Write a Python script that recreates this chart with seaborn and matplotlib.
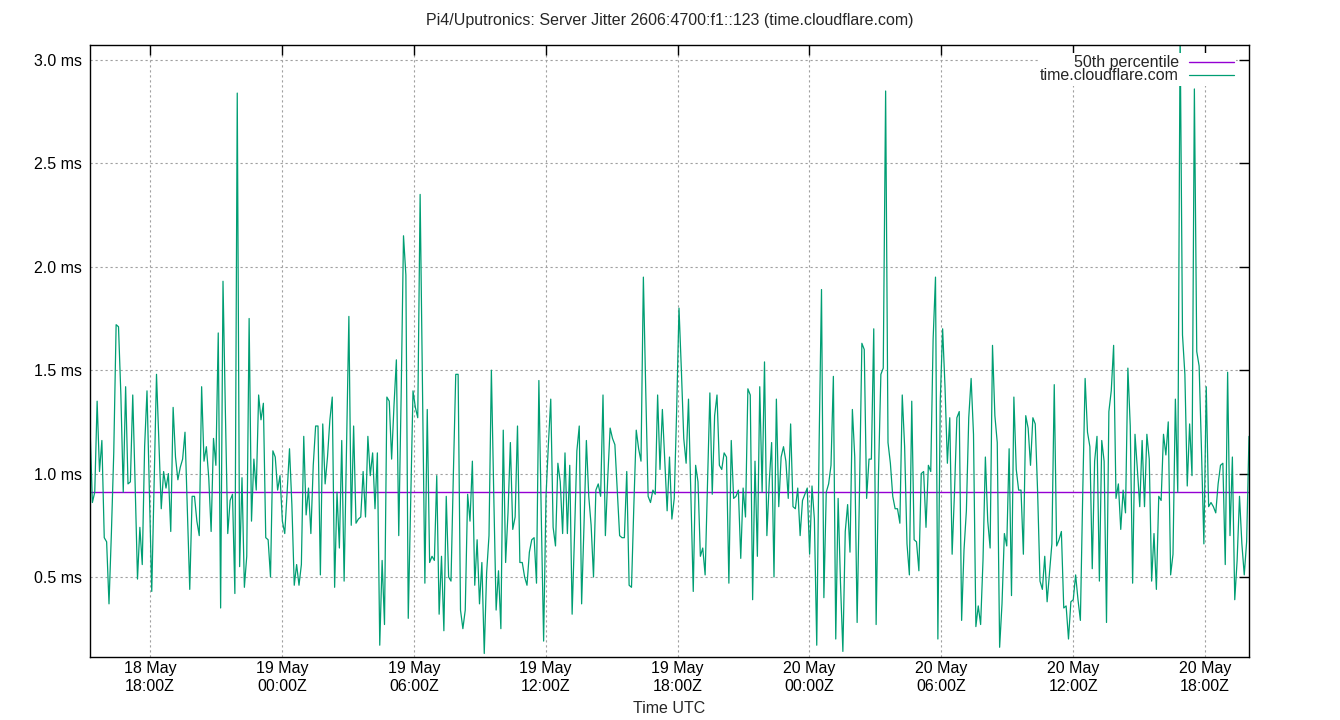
import matplotlib
matplotlib.use("Agg")
import matplotlib.pyplot as plt
import matplotlib.dates as mdates
import pandas as pd
import seaborn as sns

title = "Pi4/Uputronics: Server Jitter 2606:4700:f1::123 (time.cloudflare.com)"
server_label = "time.cloudflare.com"
median_label = "50th percentile"
median_ms = 0.91
x_label = "Time UTC"

# time span of the samples (evenly spaced)
start_time = "2024-05-18 15:16"
end_time = "2024-05-20 20:00"

# jitter samples in ms, left to right
jitter_ms = [
    # 18 May ~15:15 - 20:00
    1.23, 0.86, 0.91, 1.35, 1.01, 1.16, 0.69, 0.67, 0.37, 0.71, 1.10, 1.72, 1.71, 1.38, 0.91,
    1.42, 0.95, 0.96, 1.38, 0.95, 0.49, 0.74, 0.56, 1.13, 1.40, 0.91, 0.43, 0.95, 1.48, 1.15,
    0.83, 1.01, 0.93, 1.00, 0.72, 1.32, 1.08, 0.97, 1.03, 1.07, 1.20, 0.82, 0.44, 0.89,
    # 18 May ~20:00 - 19 May 00:40
    0.89, 0.77, 0.70, 1.42, 1.06, 1.13, 0.98, 0.72, 1.17, 1.04, 1.68, 0.35, 1.93, 1.30, 0.71,
    0.87, 0.90, 0.42, 2.84, 0.55, 0.98, 0.45, 0.60, 1.75, 0.77, 1.07, 0.92, 1.38, 1.26, 1.34,
    0.69, 0.68, 0.50, 1.11, 1.08, 0.92, 0.99, 0.77, 0.71, 0.91, 1.12, 0.85, 0.46, 0.56,
    # 19 May ~00:40 - 05:25
    0.46, 0.56, 1.18, 0.80, 0.93, 0.71, 1.04, 1.23, 1.23, 0.51, 1.24, 0.95, 1.08, 1.26, 1.37,
    0.45, 0.91, 0.64, 1.16, 0.48, 1.11, 1.76, 0.75, 1.23, 0.76, 0.78, 0.79, 1.01, 0.79, 1.18,
    0.99, 1.10, 0.83, 1.10, 0.17, 0.58, 0.27, 1.37, 1.35, 1.07, 1.33, 1.55, 0.70, 1.37, 2.15,
    # 19 May ~05:25 - 10:10
    1.96, 0.30, 0.85, 1.40, 1.32, 1.27, 2.35, 1.40, 0.47, 1.31, 0.57, 0.60, 0.58, 0.99, 0.32,
    0.60, 0.24, 0.89, 0.50, 0.48, 1.00, 1.48, 1.48, 0.34, 0.25, 0.34, 0.90, 0.77, 1.06, 0.46,
    0.68, 0.37, 0.57, 0.13, 0.52, 0.70, 1.50, 0.90, 0.34, 0.53, 0.25, 1.21, 0.57, 0.81,
    # 19 May ~10:10 - 15:00
    1.15, 0.73, 0.79, 1.23, 0.57, 0.57, 0.50, 0.46, 0.62, 0.68, 0.69, 0.47, 1.45, 0.80, 0.19,
    0.89, 1.14, 1.36, 0.74, 0.65, 1.05, 0.96, 0.71, 1.10, 0.71, 1.04, 0.32, 0.70, 1.11, 1.23,
    0.37, 0.75, 1.16, 0.89, 0.75, 0.50, 0.92, 0.95, 0.89, 1.38, 0.70, 0.98, 1.22, 1.17,
    # 19 May ~15:00 - 19:45
    1.14, 0.92, 0.70, 0.69, 0.69, 1.01, 0.46, 0.45, 0.85, 1.21, 1.12, 1.06, 1.95, 1.40, 0.89,
    0.86, 0.92, 0.90, 1.38, 1.02, 1.31, 1.07, 0.82, 1.08, 0.78, 0.88, 1.30, 1.80, 1.50, 1.17,
    1.05, 1.36, 0.90, 0.43, 1.04, 0.96, 0.60, 0.64, 0.51, 0.95, 1.39, 0.90, 1.28, 1.38, 1.04,
    # 19 May ~19:45 - 20 May 00:30
    1.02, 1.10, 1.08, 0.47, 1.16, 0.88, 0.89, 0.92, 0.59, 0.93, 0.79, 1.41, 1.38, 0.39, 1.06,
    0.60, 1.42, 0.91, 1.54, 0.70, 0.96, 1.15, 0.50, 1.36, 0.84, 1.08, 1.13, 1.06, 0.88, 1.24,
    0.84, 0.83, 0.93, 0.70, 0.87, 0.90, 0.93, 0.61, 0.94, 0.78, 0.17, 1.15, 1.89, 0.40,
    # 20 May ~00:30 - 05:15
    0.91, 0.95, 1.04, 1.47, 0.20, 0.88, 0.47, 0.14, 0.72, 0.85, 0.62, 1.31, 1.08, 0.28, 0.92,
    1.63, 1.60, 0.88, 1.07, 1.07, 1.70, 0.27, 1.00, 1.48, 1.51, 2.85, 1.15, 1.05, 0.89, 0.83,
    0.83, 0.76, 1.38, 1.13, 0.66, 0.51, 1.35, 0.68, 0.67, 0.53, 1.00, 1.01, 0.74, 1.04, 1.01,
    # 20 May ~05:15 - 10:00
    1.65, 1.95, 0.20, 1.35, 1.70, 1.42, 1.05, 1.27, 0.61, 0.91, 1.27, 1.30, 0.29, 0.63, 0.82,
    1.27, 1.46, 1.19, 0.26, 0.36, 0.27, 0.58, 1.08, 0.77, 0.64, 1.62, 1.28, 1.15, 0.16, 0.37,
    0.71, 0.65, 1.12, 0.41, 1.37, 1.02, 0.92, 0.92, 0.61, 1.28, 1.22, 1.04, 1.27, 1.24,
    # 20 May ~10:00 - 14:50
    0.91, 0.48, 0.44, 0.60, 0.38, 0.52, 0.66, 1.43, 0.65, 0.68, 0.72, 0.35, 0.36, 0.20, 0.38,
    0.39, 0.51, 0.39, 0.29, 0.91, 1.46, 1.20, 1.13, 0.54, 1.06, 1.18, 0.48, 1.16, 1.06, 0.28,
    1.30, 1.40, 1.62, 0.88, 0.95, 0.73, 0.92, 0.81, 1.51, 1.23, 0.47, 1.19, 1.02,
    # 20 May ~14:50 - 20:00
    0.84, 1.16, 0.84, 1.19, 1.07, 0.48, 0.71, 0.44, 0.89, 0.87, 1.19, 1.09, 1.25, 0.51, 0.61,
    1.36, 0.91, 3.15, 1.67, 1.48, 0.94, 1.24, 0.99, 2.86, 1.59, 1.52, 1.11, 0.66, 1.42, 0.84,
    0.86, 0.84, 0.81, 0.95, 1.04, 1.05, 0.56, 1.49, 0.70, 1.08, 0.39, 0.58, 0.89, 0.66, 0.51,
    0.67, 1.18,
]

y_ticks = [0.5, 1.0, 1.5, 2.0, 2.5, 3.0]
x_ticks = pd.date_range("2024-05-18 18:00", "2024-05-20 18:00", freq="6h")

df = pd.DataFrame({
    "time": pd.date_range(start_time, end_time, periods=len(jitter_ms)),
    "jitter": jitter_ms,
})

sns.set_style("white")
plt.rcParams["font.family"] = ["Liberation Sans", "DejaVu Sans"]
plt.rcParams["font.size"] = 11.5

fig = plt.figure(figsize=(13.4, 7.2), dpi=100)
ax = fig.add_axes([90 / 1340, 1 - 657 / 720, (1249 - 90) / 1340, (657 - 45) / 720])

ax.axhline(median_ms, color="#9400d3", lw=1.0, label=median_label)
sns.lineplot(data=df, x="time", y="jitter", ax=ax, color="#009e73", lw=0.9,
             label=server_label)

ax.set_xlim(pd.Timestamp(start_time), pd.Timestamp(end_time))
ax.set_ylim(0.113, 3.0725)

ax.set_xticks(x_ticks)
ax.xaxis.set_major_formatter(mdates.DateFormatter("%d %b\n%H:%MZ"))
ax.set_yticks(y_ticks)
ax.set_yticklabels([f"{v:.1f} ms" for v in y_ticks])
ax.tick_params(direction="in", length=7, width=1, top=True, right=True,
               labelsize=11.5, colors="black", pad=6)
ax.tick_params(axis="x", pad=3)
ax.grid(True, color="#a0a0a0", linestyle=(0, (2, 2.5)), lw=0.8)
ax.set_axisbelow(True)
for sp in ax.spines.values():
    sp.set_color("black")
    sp.set_linewidth(1)

ax.set_xlabel(x_label, fontsize=11.5, labelpad=5)
ax.set_ylabel("")
fig.text(0.5, 1 - 21 / 720, title, ha="center", va="center", fontsize=11.5)

leg = ax.legend(loc="upper right", markerfirst=False, frameon=True, facecolor="white",
                edgecolor="none", framealpha=1, fancybox=False, handlelength=2.8,
                handletextpad=0.65, labelspacing=-0.12, borderpad=0.15,
                borderaxespad=0.5, fontsize=11.5, bbox_to_anchor=(0.996, 1.0))
for col in leg._legend_handle_box.get_children():
    col.align = "right"

fig.savefig("out.png", dpi=100)
